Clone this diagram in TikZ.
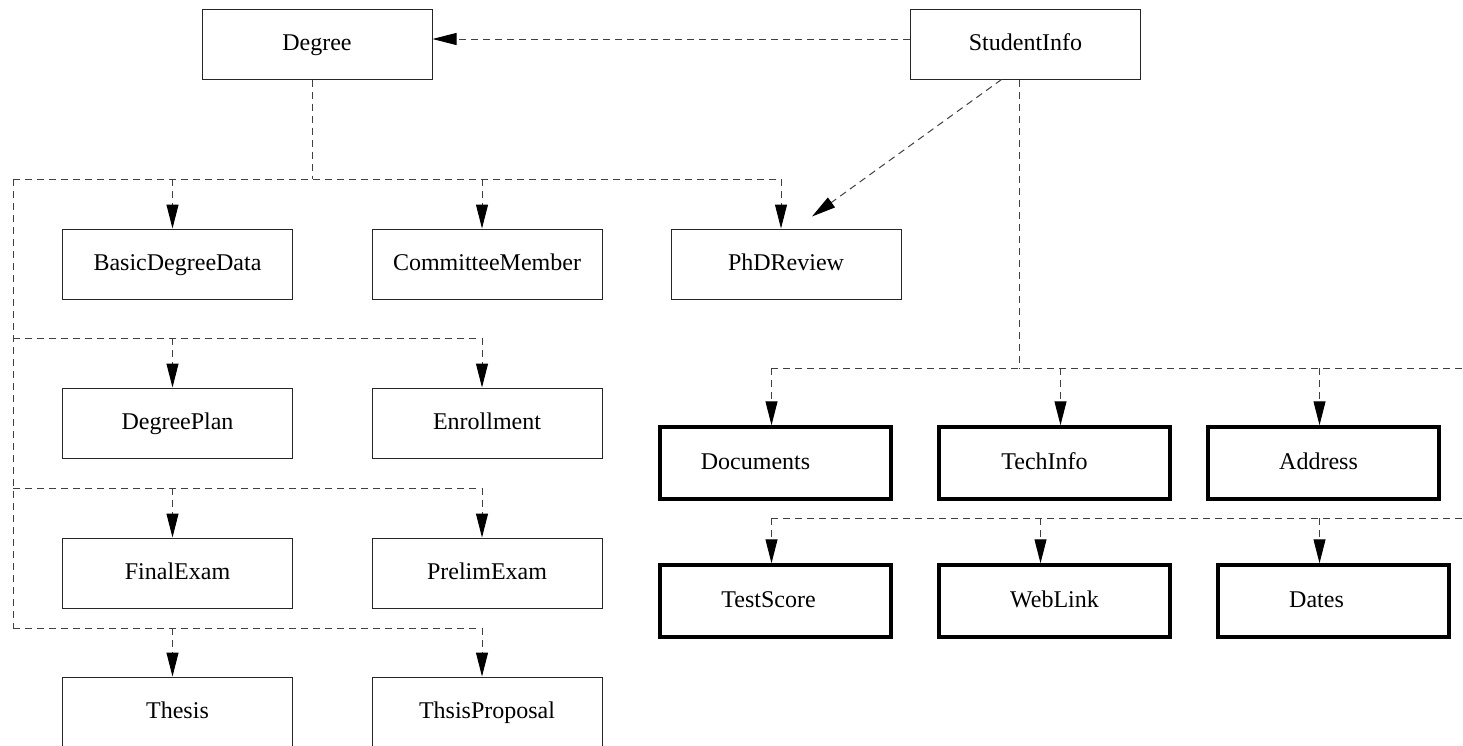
\documentclass[tikz,border=0pt]{standalone}
\usepackage{fontspec}
\setmainfont{Liberation Serif}
\usetikzlibrary{arrows.meta}

\tikzset{
  cls/.style={draw=black!85,line width=1pt,minimum width=230pt,minimum height=70pt,
    inner sep=0pt,text height=17pt,text depth=5pt,font=\fontsize{24}{28}\selectfont},
  bigcls/.style={cls,draw=black,line width=3.5pt,minimum width=231pt,minimum height=72pt},
  dep/.style={draw=black!75,line width=1pt,dash pattern=on 7pt off 5pt},
  deparrow/.style={dep,-{Triangle[length=24pt,width=12pt,color=black,fill=black]}},
}

\begin{document}
\begin{tikzpicture}[x=1pt,y=-1pt]
  \useasboundingbox (0,0) rectangle (1463,745);

  % top classes
  \node[cls] (degree) at (317,44) {Degree};
  \node[cls] (studentinfo) at (1025.5,44) {StudentInfo};

  % parts of Degree
  \node[cls] (basicdata) at (177.5,264) {BasicDegreeData};
  \node[cls] (committee) at (487,264) {CommitteeMember};
  \node[cls] (phdreview) at (786,264) {PhDReview};
  \node[cls] (degreeplan) at (177.5,423) {DegreePlan};
  \node[cls] (enrollment) at (487,423) {Enrollment};
  \node[cls] (finalexam) at (177.5,573) {FinalExam};
  \node[cls] (prelimexam) at (487,573) {PrelimExam};
  \node[cls] (thesis) at (177.5,712) {Thesis};
  \node[cls] (proposal) at (487,712) {ThsisProposal};

  % parts of StudentInfo
  \node[bigcls] (documents) at (775.5,463) {\hspace*{-40pt}Documents};
  \node[bigcls] (techinfo) at (1054.5,463) {\hspace*{-20pt}TechInfo};
  \node[bigcls] (address) at (1323.5,463) {\hspace*{-10pt}Address};
  \node[bigcls] (testscore) at (775.5,601) {\hspace*{-14pt}TestScore};
  \node[bigcls] (weblink) at (1054.5,601) {WebLink};
  \node[bigcls] (dates) at (1333.5,601) {\hspace*{-34pt}Dates};

  % rails
  \coordinate (rail1) at (13,179);
  \coordinate (rail2) at (13,338);
  \coordinate (rail3) at (13,488);
  \coordinate (rail4) at (13,628);
  \coordinate (srail1) at (771,368);
  \coordinate (srail2) at (771,518);
  \coordinate (edge1) at (1463,368);
  \coordinate (edge2) at (1463,518);

  \draw[deparrow] ([yshift=5pt]studentinfo.west) -- ([yshift=5pt]degree.east);
  \draw[deparrow] ([xshift=-24pt]studentinfo.south) -- ([xshift=26pt,yshift=12pt]phdreview.north);

  % Degree tree
  \draw[dep] ([xshift=-5pt]degree.south) -- ([xshift=-5pt]degree.south |- rail1);
  \draw[dep] (rail1) -- (rail4);
  \draw[dep] (rail1) -- ([xshift=-6pt]phdreview.north |- rail1);
  \draw[dep] (rail2) -- ([xshift=-6pt]enrollment.north |- rail2);
  \draw[dep] (rail3) -- ([xshift=-6pt]prelimexam.north |- rail3);
  \draw[dep] (rail4) -- ([xshift=-6pt]proposal.north |- rail4);
  \foreach \b/\r in {basicdata/rail1,committee/rail1,phdreview/rail1,
    degreeplan/rail2,enrollment/rail2,finalexam/rail3,prelimexam/rail3,
    thesis/rail4,proposal/rail4}
    \draw[deparrow] ([xshift=-5pt]\b.north |- \r) -- ([xshift=-5pt]\b.north);

  % StudentInfo tree
  \draw[dep] ([xshift=-6pt]studentinfo.south) -- ([xshift=-6pt]studentinfo.south |- srail1);
  \draw[dep] (srail1) -- (edge1);
  \draw[dep] (srail2) -- (edge2);
  \foreach \b/\s/\r in {documents/-4/srail1,techinfo/6/srail1,address/-4/srail1,
    testscore/-4/srail2,weblink/-14/srail2,dates/-14/srail2}
    \draw[deparrow] ([xshift=\s pt]\b.north |- \r) -- ([xshift=\s pt]\b.north);
\end{tikzpicture}
\end{document}
